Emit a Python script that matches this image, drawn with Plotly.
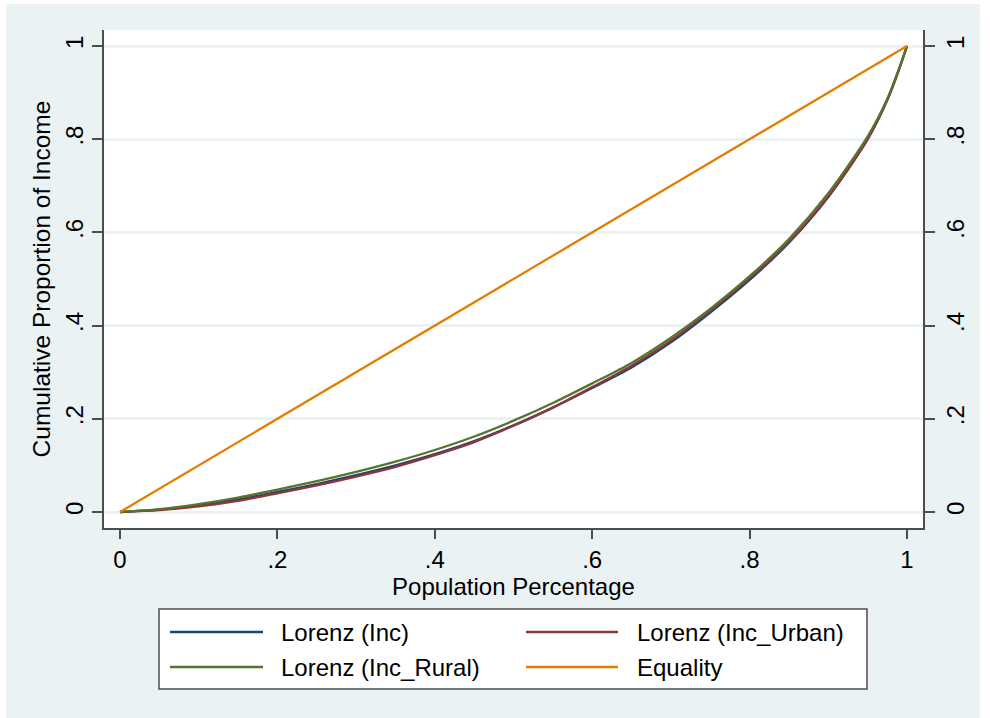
import plotly.graph_objects as go

# Population share (x) and cumulative income share (y) for each Lorenz curve
pop_share = [0, 0.05, 0.1, 0.15, 0.2, 0.25, 0.3, 0.35, 0.4, 0.45, 0.5, 0.55,
             0.6, 0.65, 0.7, 0.75, 0.8, 0.85, 0.9, 0.95, 0.975, 0.99, 1]
lorenz_inc = [0, 0.005, 0.014, 0.027, 0.043, 0.060, 0.079, 0.100, 0.124, 0.152,
              0.186, 0.224, 0.266, 0.310, 0.364, 0.428, 0.498, 0.578, 0.676,
              0.800, 0.884, 0.950, 1.0]
lorenz_urban = [0, 0.004, 0.012, 0.024, 0.040, 0.057, 0.076, 0.097, 0.122, 0.150,
                0.185, 0.224, 0.268, 0.314, 0.368, 0.432, 0.502, 0.580, 0.677,
                0.800, 0.885, 0.951, 1.0]
lorenz_rural = [0, 0.006, 0.017, 0.031, 0.048, 0.066, 0.086, 0.108, 0.133, 0.162,
                0.196, 0.234, 0.276, 0.320, 0.374, 0.436, 0.506, 0.586, 0.684,
                0.806, 0.887, 0.952, 1.0]
equality_x = [0, 1]
equality_y = [0, 1]

series_names = ["Lorenz (Inc)", "Lorenz (Inc_Urban)", "Lorenz (Inc_Rural)", "Equality"]
series_colors = ["#1A476F", "#90353B", "#55752F", "#E37E00"]

tick_vals = [0, 0.2, 0.4, 0.6, 0.8, 1]
tick_text = ["0", ".2", ".4", ".6", ".8", "1"]

FONT = "Liberation Sans, Arial, sans-serif"
BG = "#EAF2F3"
AXIS = "#4D4D4D"

# plot-region geometry in pixels
L, R, T, B = 104, 923, 30, 528
PW, PH = R - L, B - T


def px_x(p):
    return (p - L) / PW


def px_y(p):
    return (B - p) / PH


fig = go.Figure()
curves = [lorenz_inc, lorenz_urban, lorenz_rural]
for name, color, ys in zip(series_names[:3], series_colors[:3], curves):
    fig.add_trace(go.Scatter(
        x=pop_share, y=ys, name=name, mode="lines", showlegend=False,
        line=dict(color=color, width=2.3, shape="spline", smoothing=0.8),
    ))
fig.add_trace(go.Scatter(
    x=equality_x, y=equality_y, name=series_names[3], mode="lines",
    showlegend=False, yaxis="y2",
    line=dict(color=series_colors[3], width=2.3),
))

shapes = [
    # light bluish backdrop of the graph region
    dict(type="rect", xref="paper", yref="paper", layer="below",
         x0=px_x(6), x1=px_x(980), y0=px_y(720), y1=px_y(4),
         fillcolor=BG, line=dict(width=0)),
    # white plot region
    dict(type="rect", xref="paper", yref="paper", layer="below",
         x0=0, x1=1, y0=0, y1=1,
         fillcolor="white", line=dict(width=0)),
    # legend box
    dict(type="rect", xref="paper", yref="paper", layer="above",
         x0=px_x(159), x1=px_x(867), y0=px_y(689), y1=px_y(609),
         fillcolor="white", line=dict(color=AXIS, width=1.5)),
]
annotations = []

# legend entries: two columns, two rows
key_cols = [(170, 263, 279), (526, 618, 635)]
key_rows = [632, 667]
for i, (name, color) in enumerate(zip(series_names, series_colors)):
    x0, x1, xt = key_cols[i % 2]
    yr = key_rows[i // 2]
    shapes.append(dict(type="line", xref="paper", yref="paper", layer="above",
                       x0=px_x(x0), x1=px_x(x1), y0=px_y(yr), y1=px_y(yr),
                       line=dict(color=color, width=2.3)))
    annotations.append(dict(xref="paper", yref="paper", x=px_x(xt), y=px_y(yr),
                            xanchor="left", yanchor="middle", showarrow=False,
                            text=name, font=dict(size=24, color="black")))

axis_common = dict(
    tickmode="array", tickvals=tick_vals, ticktext=tick_text,
    ticks="outside", tickwidth=1.5, tickcolor=AXIS,
    showline=True, linecolor=AXIS, linewidth=1.5,
    zeroline=False, tickfont=dict(size=24),
)

fig.update_layout(
    width=990, height=718,
    margin=dict(l=L, r=990 - R, t=T, b=718 - B, autoexpand=False),
    paper_bgcolor="white",
    plot_bgcolor="white",
    font=dict(family=FONT, size=24, color="black"),
    shapes=shapes,
    annotations=annotations,
    xaxis=dict(
        range=[-16 / 787, 1 + 16 / 787], ticklen=9, showgrid=False,
        title=dict(text="Population Percentage", font=dict(size=24), standoff=2),
        **axis_common,
    ),
    yaxis=dict(
        range=[-16 / 466, 1 + 16 / 466], ticklen=10, tickangle=-90,
        showgrid=True, gridcolor=BG, gridwidth=2.5,
        title=dict(text="Cumulative Proportion of Income", font=dict(size=24.5), standoff=3),
        **axis_common,
    ),
    yaxis2=dict(
        overlaying="y", side="right",
        range=[-16 / 466, 1 + 16 / 466], ticklen=10, tickangle=-90,
        showgrid=False,
        **axis_common,
    ),
    showlegend=False,
)

fig.write_html("out.html")
